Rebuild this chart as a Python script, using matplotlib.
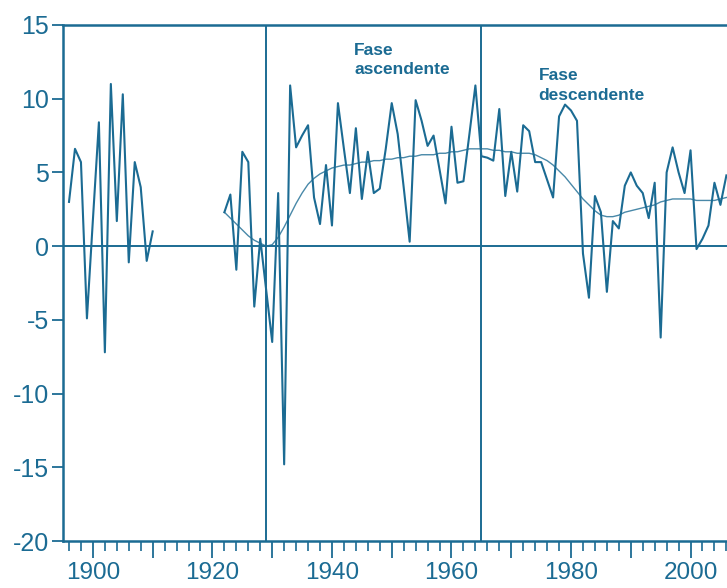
import matplotlib
matplotlib.use('Agg')
import matplotlib.pyplot as plt
import matplotlib.ticker as ticker

plt.rcParams['font.family'] = ['Liberation Sans', 'DejaVu Sans']
plt.rcParams['axes.unicode_minus'] = False

BLUE = '#1b6b93'

# first block of annual values
years_a = list(range(1896, 1911))
vals_a = [3.0, 6.6, 5.7, -4.9, 1.8, 8.4, -7.2, 11.0, 1.7, 10.3, -1.1, 5.7, 4.0, -1.0, 1.0]

# second block
years_b = list(range(1922, 2007))
vals_b = [2.3, 3.5, -1.6, 6.4, 5.7, -4.1, 0.5, -3.0, -6.5, 3.6,
          -14.8, 10.9, 6.7, 7.5, 8.2, 3.3, 1.5, 5.5, 1.4, 9.7,
          6.6, 3.6, 8.0, 3.2, 6.4, 3.6, 3.9, 6.6, 9.7, 7.6,
          4.0, 0.3, 9.9, 8.5, 6.8, 7.5, 5.2, 2.9, 8.1, 4.3,
          4.4, 7.6, 10.9, 6.1, 6.0, 5.8, 9.3, 3.4, 6.4, 3.7,
          8.2, 7.8, 5.7, 5.7, 4.5, 3.3, 8.8, 9.6, 9.2, 8.5,
          -0.5, -3.5, 3.4, 2.3, -3.1, 1.7, 1.2, 4.1, 5.0, 4.1,
          3.6, 1.9, 4.3, -6.2, 5.0, 6.7, 5.0, 3.6, 6.5, -0.2,
          0.5, 1.4, 4.3, 2.8, 4.8]

# smoothed trend for the second block
trend_b = [2.3, 1.9, 1.5, 1.1, 0.7, 0.4, 0.2, 0.0, 0.1, 0.6,
           1.3, 2.1, 2.9, 3.6, 4.2, 4.6, 4.9, 5.1, 5.3, 5.4,
           5.5, 5.5, 5.6, 5.7, 5.7, 5.8, 5.8, 5.9, 5.9, 6.0,
           6.0, 6.1, 6.1, 6.2, 6.2, 6.2, 6.3, 6.3, 6.4, 6.4,
           6.5, 6.6, 6.6, 6.6, 6.6, 6.5, 6.5, 6.4, 6.4, 6.3,
           6.3, 6.3, 6.2, 6.0, 5.8, 5.5, 5.1, 4.7, 4.2, 3.7,
           3.2, 2.8, 2.4, 2.1, 2.0, 2.0, 2.1, 2.3, 2.4, 2.5,
           2.6, 2.7, 2.8, 3.0, 3.1, 3.2, 3.2, 3.2, 3.2, 3.1,
           3.1, 3.1, 3.1, 3.2, 3.3]

phase_breaks = [1929, 1965]

fig = plt.figure(figsize=(7.27, 5.88), dpi=100)
ax = fig.add_axes([0.0867, 0.0799, 0.9133, 0.8776])

ax.plot(years_a, vals_a, color=BLUE, lw=1.5)
ax.plot(years_b, vals_b, color=BLUE, lw=1.5)
ax.plot(years_b, trend_b, color=BLUE, lw=1.0, alpha=0.8)

ax.axhline(0, color=BLUE, lw=1.4)
for yr in phase_breaks:
    ax.axvline(yr, color=BLUE, lw=1.4)

ax.text(1943.7, 13.8, 'Fase\nascendente', color=BLUE, fontsize=12.5,
        fontweight='bold', va='top', ha='left', linespacing=1.4)
ax.text(1974.6, 12.1, 'Fase\ndescendente', color=BLUE, fontsize=12.5,
        fontweight='bold', va='top', ha='left', linespacing=1.4)

ax.set_xlim(1895, 2006.1)
ax.set_ylim(-20, 15)

ax.xaxis.set_major_locator(ticker.MultipleLocator(10))
ax.xaxis.set_minor_locator(ticker.MultipleLocator(2))
ax.xaxis.set_major_formatter(ticker.FuncFormatter(
    lambda v, p: '%d' % v if int(round(v)) % 20 == 0 else ''))
ax.yaxis.set_major_locator(ticker.MultipleLocator(5))

ax.tick_params(axis='x', which='major', length=12, width=1.3, colors=BLUE,
               labelsize=17.5, pad=3)
ax.tick_params(axis='x', which='minor', length=7, width=1.2, colors=BLUE)
ax.tick_params(axis='y', which='major', length=8, width=1.3, colors=BLUE,
               labelsize=18, pad=2)

for side in ['left', 'top', 'bottom']:
    ax.spines[side].set_color(BLUE)
    ax.spines[side].set_linewidth(1.8)
ax.spines['right'].set_visible(False)

fig.savefig('out.png', dpi=100)
plt.close(fig)
